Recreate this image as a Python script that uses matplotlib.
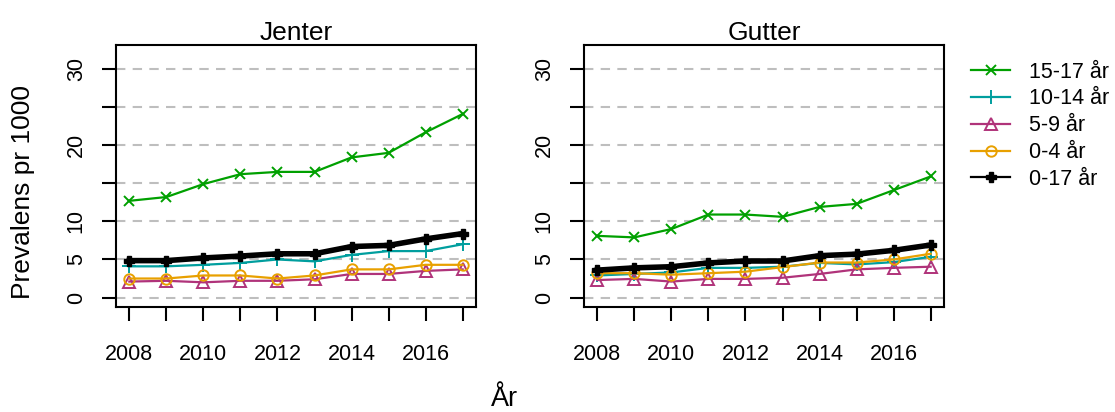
import matplotlib
matplotlib.use("Agg")
import matplotlib.pyplot as plt
from matplotlib.lines import Line2D

plt.rcParams['font.family'] = ['Liberation Sans', 'DejaVu Sans']

years = list(range(2008, 2018))
groups = ["15-17 år", "10-14 år", "5-9 år", "0-4 år", "0-17 år"]

# prevalens pr 1000, jenter
jenter_15_17 = [12.7, 13.2, 14.9, 16.2, 16.5, 16.5, 18.4, 19.0, 21.7, 24.1]
jenter_10_14 = [4.1, 4.1, 4.3, 4.55, 5.0, 4.75, 5.6, 6.1, 6.1, 7.0]
jenter_5_9 = [2.1, 2.2, 2.0, 2.2, 2.2, 2.4, 3.1, 3.1, 3.5, 3.7]
jenter_0_4 = [2.5, 2.5, 2.9, 2.9, 2.5, 2.9, 3.7, 3.7, 4.3, 4.3]
jenter_0_17 = [4.85, 4.85, 5.2, 5.45, 5.75, 5.75, 6.7, 6.85, 7.7, 8.4]

# prevalens pr 1000, gutter
gutter_15_17 = [8.1, 7.9, 9.0, 10.9, 10.9, 10.6, 11.9, 12.3, 14.1, 15.9]
gutter_10_14 = [2.9, 3.1, 3.3, 3.9, 3.9, 4.05, 4.55, 4.35, 4.65, 5.35]
gutter_5_9 = [2.3, 2.45, 2.1, 2.45, 2.45, 2.6, 3.1, 3.7, 3.9, 4.05]
gutter_0_4 = [3.2, 3.2, 3.0, 3.2, 3.4, 4.0, 4.6, 4.6, 5.0, 5.75]
gutter_0_17 = [3.6, 3.9, 4.05, 4.55, 4.8, 4.8, 5.5, 5.7, 6.2, 6.9]

styles = [
    dict(color="#00A000", marker="x", ms=7.5, mew=1.4, lw=1.6, mfc="none"),
    dict(color="#009E9E", marker="+", ms=10, mew=1.4, lw=1.6, mfc="none"),
    dict(color="#B0337A", marker="^", ms=9, mew=1.4, lw=1.6, mfc="none"),
    dict(color="#E8A000", marker="o", ms=7.5, mew=1.4, lw=1.6, mfc="none"),
    dict(color="black", marker="P", ms=7.5, mew=1.0, lw=4.0, mfc="black"),
]

fig = plt.figure(figsize=(11.15, 4.12), dpi=100, facecolor="w")
W, H = 1115., 412.


def panel(left_px, title, series):
    ax = fig.add_axes([left_px / W, (H - 306.7) / H, 360 / W, 262 / H])
    ax.set_xlim(2007.64, 2017.36)
    ax.set_ylim(-1.2, 33.2)
    for y in range(0, 31, 5):
        ax.axhline(y, color="#BEBEBE", lw=1.5, ls=(0, (4.5, 3.5)), zorder=0)
    for vals, st, lab in zip(series, styles, groups):
        ax.plot(years, vals, label=lab, **st)
    ax.set_xticks(years)
    ax.set_xticklabels([str(y) if y % 2 == 0 else "" for y in years])
    ax.set_yticks(range(0, 31, 5))
    ax.set_yticklabels(["0", "5", "10", "", "20", "", "30"],
                       rotation=90, va="center")
    ax.tick_params(axis="both", length=10, width=1.5, labelsize=15.5)
    ax.tick_params(axis="x", pad=17)
    ax.tick_params(axis="y", pad=11)
    for s in ax.spines.values():
        s.set_linewidth(1.5)
    ax.set_title(title, fontsize=19, pad=3)
    return ax


ax1 = panel(116, "Jenter",
            [jenter_15_17, jenter_10_14, jenter_5_9, jenter_0_4, jenter_0_17])
ax2 = panel(584, "Gutter",
            [gutter_15_17, gutter_10_14, gutter_5_9, gutter_0_4, gutter_0_17])

fig.text(23 / W, 1 - 192 / H, "Prevalens pr 1000", fontsize=19,
         rotation=90, ha="center", va="center")
fig.text(505 / W, 1 - 399 / H, "År", fontsize=19.5, ha="center", va="center")

# legend keys use thin lines, like the colored series
handles = []
for st in styles:
    h = dict(st)
    h["lw"] = 1.6
    handles.append(Line2D([], [], **h))

fig.legend(handles, groups, loc="upper left",
           bbox_to_anchor=(962 / W, 1 - 53 / H), frameon=False,
           fontsize=15.5, handlelength=1.85, handletextpad=0.85,
           labelspacing=0.27, borderaxespad=0)

fig.savefig("out.png", dpi=100)
